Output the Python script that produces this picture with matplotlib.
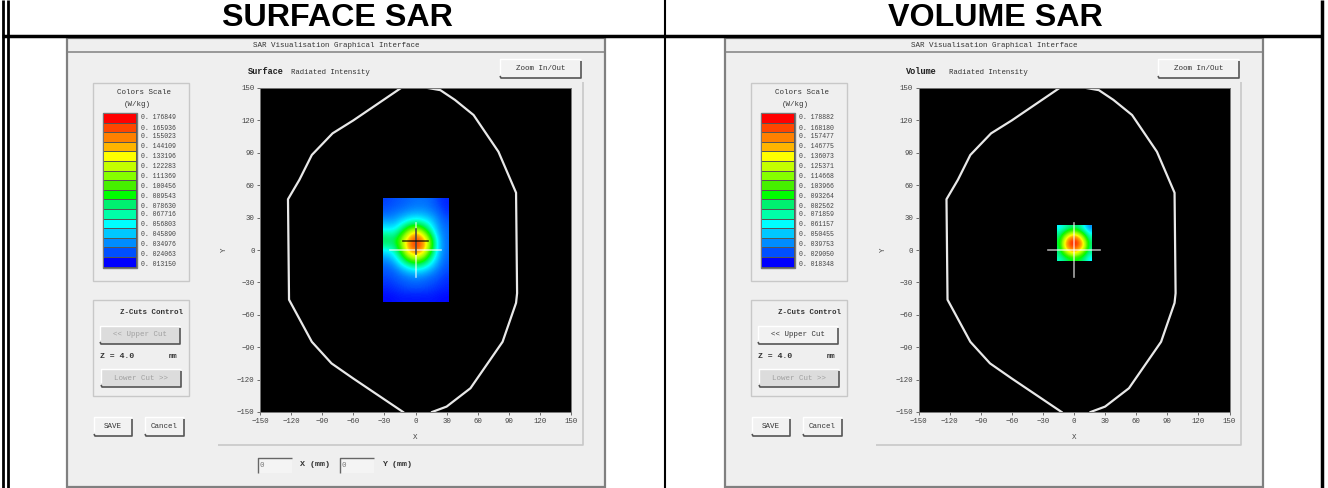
import matplotlib
matplotlib.use("Agg")
import matplotlib.pyplot as plt
from matplotlib.colors import LinearSegmentedColormap
from matplotlib.patches import Rectangle

W, H = 1328, 488
MONO = "Liberation Mono"

# colour scale, top band first
band_colors = ["#ff0000", "#ff4600", "#ff8000", "#ffb400", "#ffff00", "#c4ff00",
               "#86ff00", "#46f000", "#00ff00", "#00f070", "#00ffa8", "#00ffff",
               "#00c8ff", "#008cff", "#0050ff", "#0000ff"]

surface_scale = ["0.176849", "0.165936", "0.155023", "0.144109", "0.133196", "0.122283",
                 "0.111369", "0.100456", "0.089543", "0.078630", "0.067716", "0.056803",
                 "0.045890", "0.034976", "0.024063", "0.013150"]
volume_scale = ["0.178882", "0.168180", "0.157477", "0.146775", "0.136073", "0.125371",
                "0.114668", "0.103966", "0.093264", "0.082562", "0.071859", "0.061157",
                "0.050455", "0.039753", "0.029050", "0.018348"]

ticks = [-150, -120, -90, -60, -30, 0, 30, 60, 90, 120, 150]

# phantom outline in mm
outline_x = [-14, -60, -80, -100, -112, -123, -122, -100, -81, -60, -12]
outline_y = [150, 120, 108, 88, 65, 47, -46, -85, -105, -119, -150]
outline_x2 = [16, 30, 53, 84, 97, 98, 97, 80, 56, 38, 24, 12]
outline_y2 = [-150, -145, -128, -85, -49, -40, 53, 91, 125, 139, 148, 150]

# SAR, W/kg, top row first
surface_sar = [
    [.022, .024, .026, .028, .030, .030, .028, .022, .018],
    [.026, .030, .032, .036, .038, .038, .034, .028, .020],
    [.040, .040, .050, .060, .065, .060, .050, .036, .026],
    [.060, .060, .080, .115, .135, .110, .070, .040, .030],
    [.090, .085, .115, .155, .180, .160, .110, .050, .030],
    [.055, .065, .100, .150, .165, .150, .100, .050, .030],
    [.035, .045, .070, .100, .115, .100, .070, .042, .028],
    [.026, .030, .040, .050, .056, .052, .042, .032, .024],
    [.022, .024, .027, .030, .032, .030, .027, .024, .020],
    [.018, .020, .022, .024, .024, .024, .022, .020, .018],
    [.014, .015, .016, .016, .016, .016, .016, .015, .014],
]
volume_sar = [
    [.055, .065, .075, .080, .072, .055, .035],
    [.070, .090, .110, .120, .105, .080, .055],
    [.080, .120, .150, .165, .145, .110, .070],
    [.085, .135, .170, .178, .165, .130, .080],
    [.080, .130, .155, .165, .150, .125, .075],
    [.075, .100, .125, .135, .120, .095, .070],
    [.065, .075, .085, .090, .085, .075, .055],
]

sar_cmap = LinearSegmentedColormap.from_list("sar", band_colors[::-1])

fig = plt.figure(figsize=(W / 100, H / 100), dpi=100, facecolor="white")
bg = fig.add_axes([0, 0, 1, 1])
bg.set_xlim(0, W)
bg.set_ylim(H, 0)
bg.axis("off")


def box(x0, y0, x1, y1, fc="none", ec="#c8c8c8", lw=1.0, z=1):
    bg.add_patch(Rectangle((x0, y0), x1 - x0, y1 - y0, fc=fc, ec=ec, lw=lw, zorder=z))


def line(xs, ys, c="black", lw=1.0, z=5):
    bg.plot(xs, ys, color=c, lw=lw, zorder=z, solid_capstyle="butt")


def label(x, y, s, size=5.4, c="#333333", ha="left", weight="normal"):
    bg.text(x, y, s, fontsize=size, color=c, ha=ha, va="center",
            family=MONO, weight=weight, zorder=6)


def button(x0, y0, x1, y1, s, enabled=True):
    box(x0, y0, x1, y1, fc="#f2f2f2" if enabled else "#dcdcdc", ec="none", z=2)
    line([x0, x0, x1], [y1 - 4, y0, y0], c="#ffffff", lw=1)
    line([x0, x0 + 1, x1, x1], [y1 - 2, y1, y1, y0 + 2], c="#555555", lw=1.2)
    label((x0 + x1) / 2, (y0 + y1) / 2, s, ha="center",
          c="#333333" if enabled else "#a0a0a0")


def window(dx, word, scale, upper_enabled, readout):
    # window frame
    box(dx + 67, 38, dx + 605, 487, fc="#efefef", ec="#808080", lw=1.6)
    line([dx + 68, dx + 604], [52, 52], c="#8a8a8a", lw=1.2)
    label(dx + 336, 45.5, "SAR Visualisation Graphical Interface", ha="center")

    label(dx + 248, 71.5, word, weight="bold", size=6.2, c="#222222")
    label(dx + 291, 72, "Radiated Intensity", size=5.3)
    button(dx + 500, 59, dx + 581, 78, "Zoom In/Out")

    # colour scale panel
    box(dx + 93, 83, dx + 189, 281)
    label(dx + 144, 93, "Colors Scale", ha="center")
    label(dx + 137, 104, "(W/kg)", ha="center")
    box(dx + 103, 113, dx + 137, 268, fc="#555555", ec="#777777", z=2)
    for i in range(len(band_colors)):
        top = 114 + i * 9.6
        box(dx + 104, top, dx + 136, top + 8.6, fc=band_colors[i], ec="none", z=3)
    label_y = [117.5, 129, 136.5, 146, 157, 167, 177, 187, 196, 206, 215, 225, 235, 245, 254, 264]
    for i in range(len(scale)):
        label(dx + 141, label_y[i], scale[i][:2] + " " + scale[i][2:], size=4.7, c="#444444")

    # z-cut panel
    box(dx + 93, 300, dx + 189, 396)
    label(dx + 151, 313, "Z-Cuts Control", ha="center", weight="bold")
    button(dx + 100, 326, dx + 180, 344, "<< Upper Cut", enabled=upper_enabled)
    label(dx + 100, 356, "Z = 4.0", weight="bold", size=5.9)
    label(dx + 169, 356, "mm", weight="bold", size=5.2)
    button(dx + 101, 369, dx + 181, 387, "Lower Cut >>", enabled=False)
    button(dx + 94, 417, dx + 132, 436, "SAVE")
    button(dx + 145, 417, dx + 184, 436, "Cancel")

    # plot panel edge
    line([dx + 218, dx + 583, dx + 583], [445, 445, 82], c="#c8c8c8", lw=1.2)

    if readout:
        for x0, x1 in [(258, 292), (340, 374)]:
            box(dx + x0, 458, dx + x1, 473, fc="#f4f4f4", ec="none", z=2)
            line([dx + x0, dx + x0, dx + x1], [473, 458, 458], c="#666666", lw=1)
            label(dx + x0 + 2, 465.5, "0", c="#777777")
        label(dx + 300, 464, "X (mm)", weight="bold", size=6)
        label(dx + 382, 464, "Y (mm)", weight="bold", size=6)


def sar_plot(left, sar, extent, dark_cross):
    ax = fig.add_axes([left / W, 1 - 412 / H, 311 / W, 324 / H], zorder=4)
    ax.set_facecolor("black")
    ax.imshow(sar, extent=extent, cmap=sar_cmap, vmin=.013, vmax=.178, aspect="auto",
              interpolation="bicubic", interpolation_stage="data", zorder=1)
    ax.plot(outline_x, outline_y, color="#e8e8e8", lw=1.6, zorder=2)
    ax.plot(outline_x2, outline_y2, color="#e8e8e8", lw=1.6, zorder=2)
    ax.plot([-25, 25], [0, 0], color="white", lw=1.2, alpha=.65, zorder=3)
    ax.plot([0, 0], [-25, 25], color="white", lw=1.2, alpha=.65, zorder=3)
    if dark_cross:
        ax.plot([-12, 12], [8, 8], color="black", lw=1.2, alpha=.7, zorder=4)
        ax.plot([0, 0], [-4, 19], color="black", lw=1.2, alpha=.7, zorder=4)
    ax.set_xlim(-150, 150)
    ax.set_ylim(-150, 150)
    ax.set_xticks(ticks)
    ax.set_yticks(ticks)
    ax.tick_params(length=2.5, width=.6, color="#555555", labelsize=5.3,
                   labelcolor="#444444", pad=1.5)
    for t in ax.get_xticklabels() + ax.get_yticklabels():
        t.set_family(MONO)
    for s in ax.spines.values():
        s.set_color("#777777")
        s.set_linewidth(.7)
    ax.set_xlabel("X", fontsize=5.4, family=MONO, color="#444444")
    ax.set_ylabel("Y", fontsize=5.4, family=MONO, color="#444444")
    ax.xaxis.set_label_coords(.5, -.068)
    ax.yaxis.set_label_coords(-.103, .5)


window(0, "Surface", surface_scale, False, True)
window(658, "Volume", volume_scale, True, False)

sar_plot(260, surface_sar, [-31.5, 31.5, -48, 48], True)
sar_plot(918.5, volume_sar, [-16.5, 16.5, -10, 23], False)

# table rules
line([2.5, 2.5], [0, H], lw=2)
line([7.5, 7.5], [0, H], lw=2)
line([1322, 1322], [0, H], lw=2.5)
line([2, 1323], [35.5, 35.5], lw=2.5)
line([665, 665], [0, H], lw=1.5)

bg.text(337, 18, "SURFACE SAR", fontsize=23.2, weight="bold", family="Liberation Sans",
        ha="center", va="center")
bg.text(995, 18, "VOLUME SAR", fontsize=23.2, weight="bold", family="Liberation Sans",
        ha="center", va="center")

fig.savefig("out.png", dpi=100, facecolor="white")
